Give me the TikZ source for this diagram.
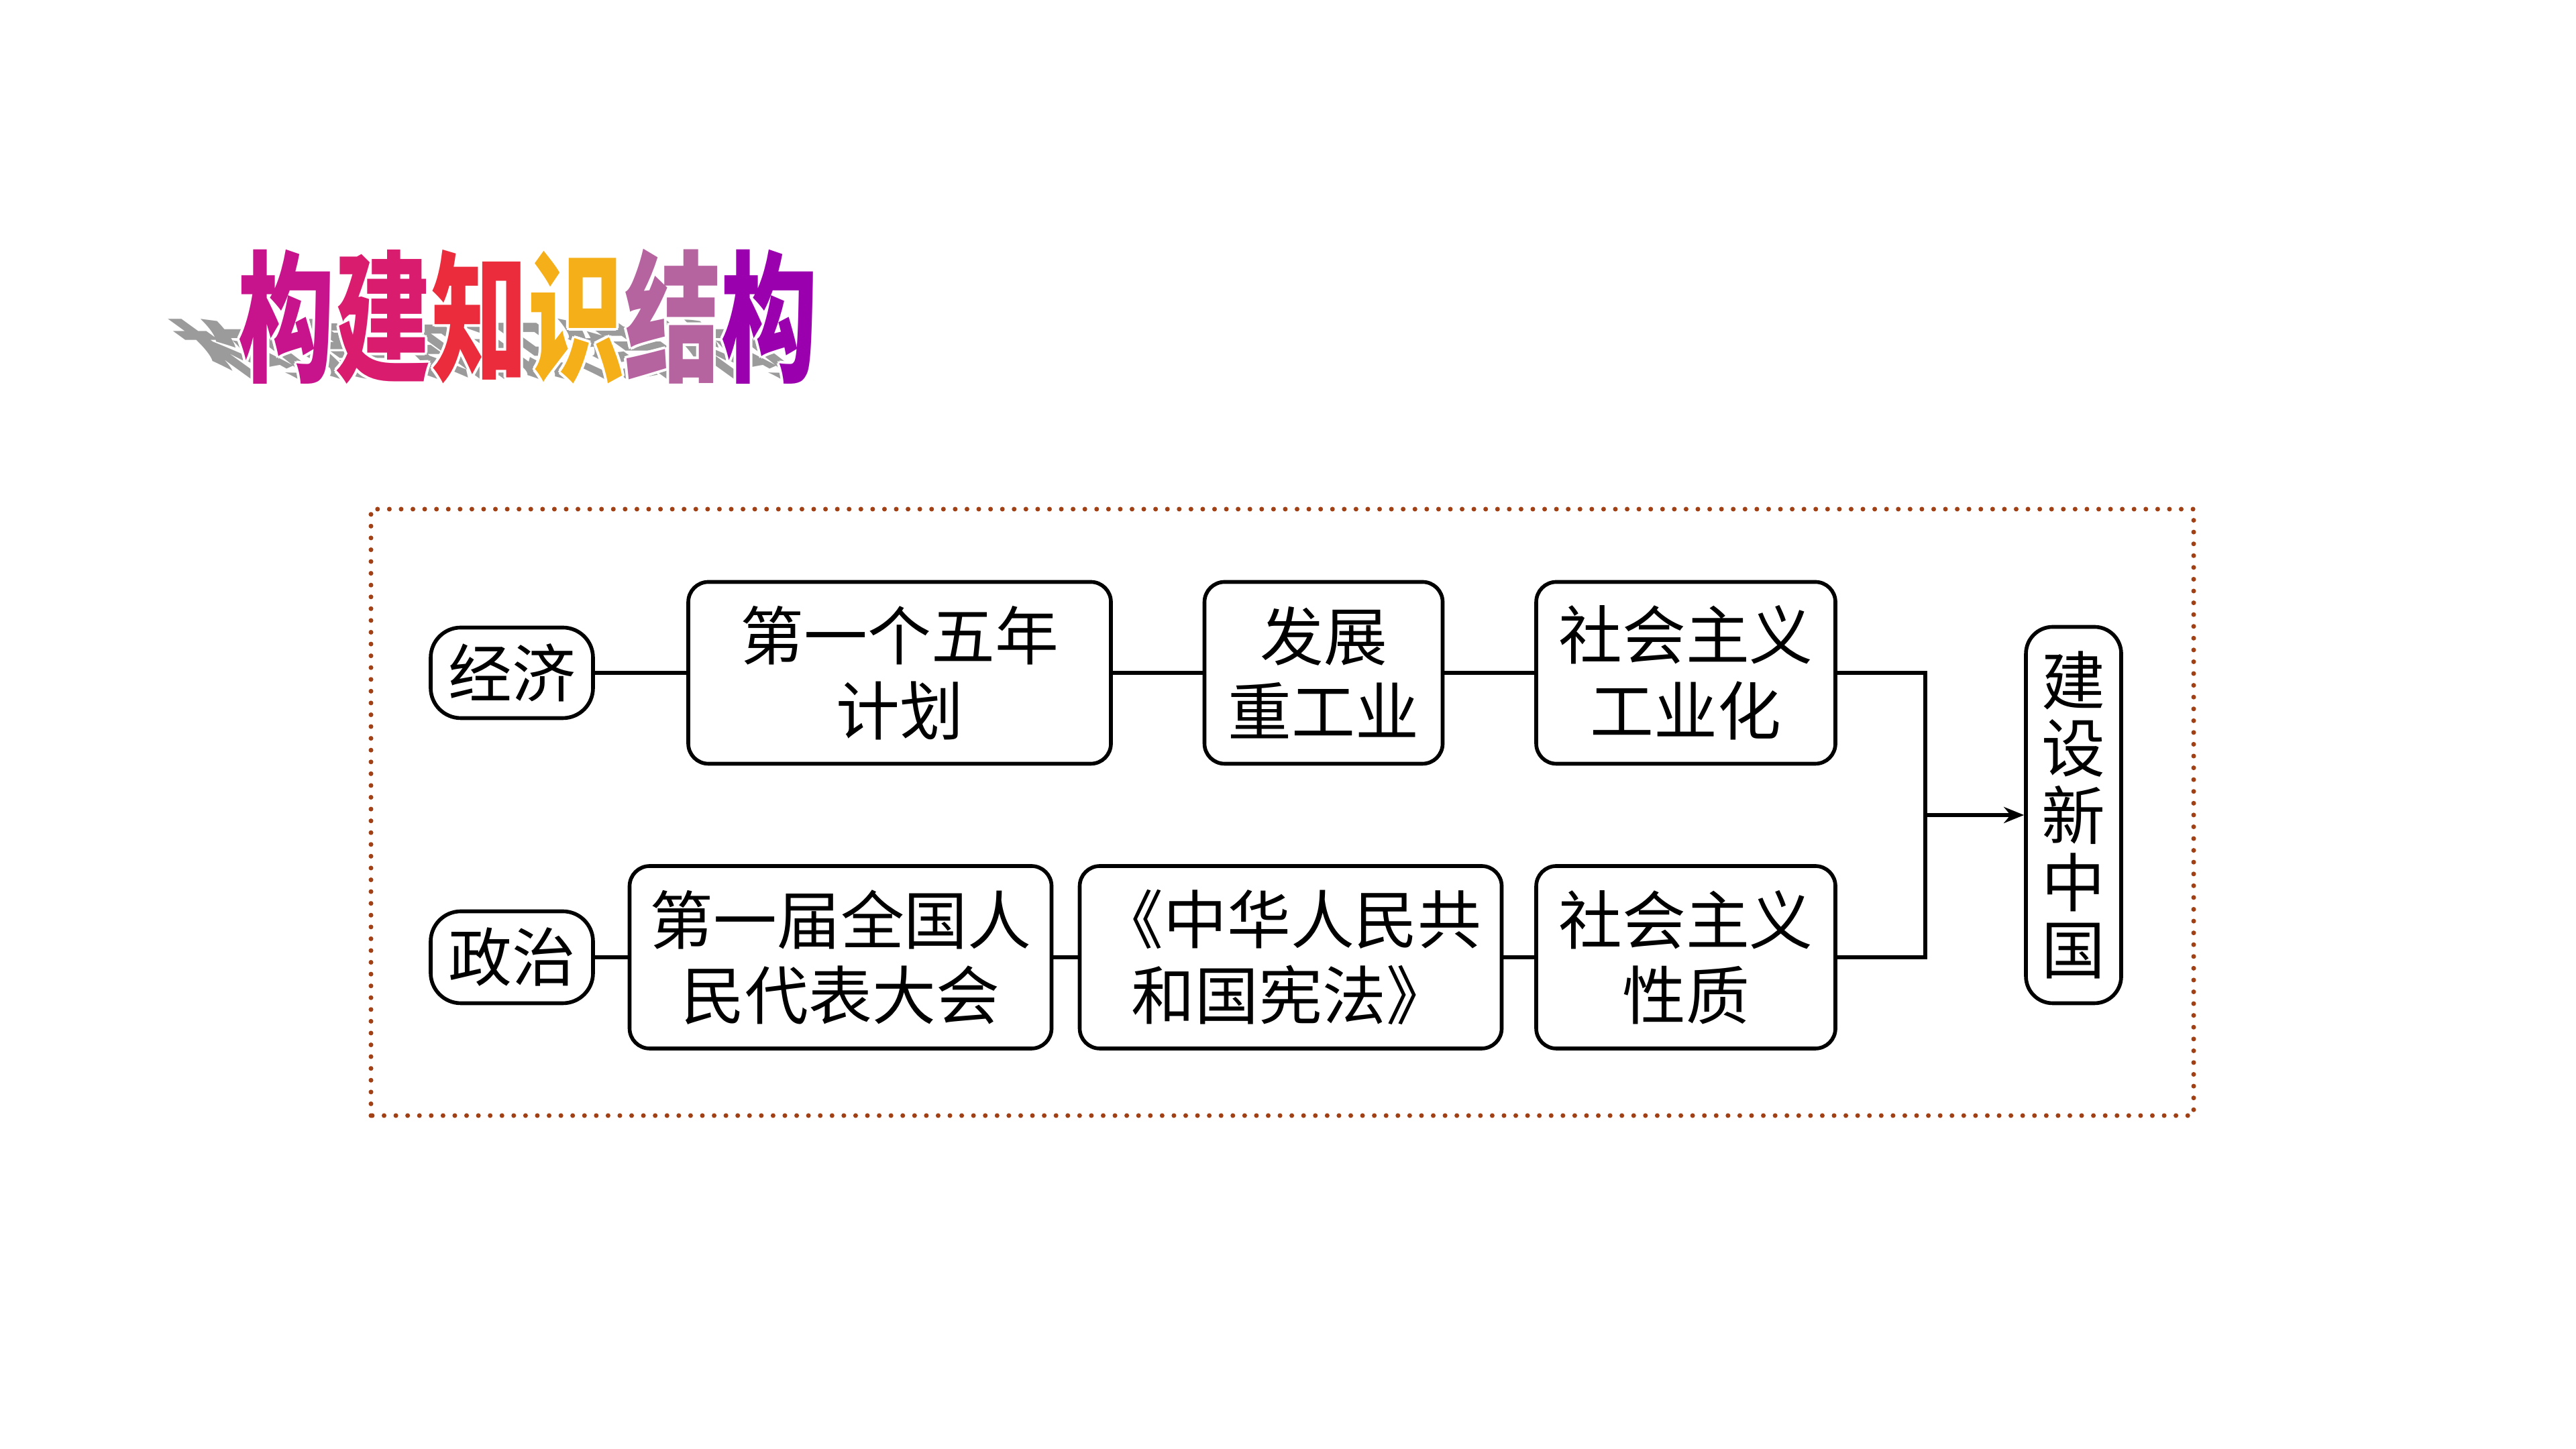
\documentclass[tikz,border=0pt]{standalone}
\usepackage{fontspec}
\newfontfamily\cjk{Noto Sans CJK SC}
\newfontfamily\titlefont[FakeStretch=0.68]{Noto Sans CJK SC}
\usetikzlibrary{arrows.meta}
\definecolor{dotred}{RGB}{160,64,20}
\definecolor{shadowgray}{RGB}{155,155,155}
\definecolor{tA}{RGB}{200,20,140}
\definecolor{tB}{RGB}{218,28,110}
\definecolor{tC}{RGB}{234,44,60}
\definecolor{tD}{RGB}{245,175,25}
\definecolor{tE}{RGB}{182,100,160}
\definecolor{tF}{RGB}{155,0,175}
\tikzset{
  box/.style={draw, line width=1.6pt, rounded corners=0.3cm, fill=white, align=center,
    inner sep=0pt, font=\cjk\fontsize{27}{32}\selectfont},
  tag/.style={box, rounded corners=0.45cm},
  link/.style={line width=1.6pt},
  ttl/.style={anchor=base, inner sep=0pt, font=\titlefont\bfseries\fontsize{60}{60}\selectfont}
}
\begin{document}
\begin{tikzpicture}
\useasboundingbox (0,0) rectangle (38.4,21.6);

\begin{scope}[shift={(0,15.92)}, cm={1,0,-0.65,0.47,(0,0)}]
\foreach \c/\x [count=\i] in {构/4.27,建/5.71,知/7.15,识/8.59,结/10.03,构/11.47}
  \node[ttl, transform shape, text=shadowgray] (s\i) at (\x,0.15) {\c};
\end{scope}
\foreach \dx/\dy [count=\j] in {0.04/0,-0.04/0,0/0.04,0/-0.04,0.03/0.03,-0.03/0.03,0.03/-0.03,-0.03/-0.03}
  \foreach \c/\x [count=\i] in {构/4.27,建/5.71,知/7.15,识/8.59,结/10.03,构/11.47}
    \node[ttl, text=white] (h\j\i) at (\x+\dx,16.07+\dy) {\c};
\foreach \c/\x/\col [count=\i] in {构/4.27/tA,建/5.71/tB,知/7.15/tC,识/8.59/tD,结/10.03/tE,构/11.47/tF}
  \node[ttl, text=\col] (t\i) at (\x,16.07) {\c};

\draw[dotred, line width=2pt, line cap=round, dash pattern=on 0pt off 5pt] (5.53,4.97) rectangle (32.70,14.01);

\node[tag, minimum width=2.42cm, minimum height=1.35cm] (jj) at (7.63,11.57) {经济};
\node[box, minimum width=6.30cm, minimum height=2.71cm] (plan) at (13.41,11.57) {第一个五年\\计划};
\node[box, minimum width=3.55cm, minimum height=2.71cm] (heavy) at (19.73,11.57) {发展\\重工业};
\node[box, minimum width=4.46cm, minimum height=2.71cm] (ind) at (25.13,11.57) {社会主义\\工业化};

\node[tag, minimum width=2.42cm, minimum height=1.37cm] (zz) at (7.63,7.33) {政治};
\node[box, minimum width=6.29cm, minimum height=2.72cm] (npc) at (12.53,7.33) {第一届全国人\\民代表大会};
\node[box, minimum width=6.29cm, minimum height=2.72cm] (law) at (19.24,7.33) {《中华人民共\\和国宪法》};
\node[box, minimum width=4.46cm, minimum height=2.72cm] (nat) at (25.13,7.33) {社会主义\\性质};

\node[box, rounded corners=0.4cm, minimum width=1.42cm, minimum height=5.61cm,
  font=\cjk\fontsize{27}{28.5}\selectfont] (xzg) at (30.91,9.45) {建\\设\\新\\中\\国};

\draw[link] (jj) -- (plan);
\draw[link] (plan) -- (heavy);
\draw[link] (heavy) -- (ind);
\draw[link] (zz) -- (npc);
\draw[link] (npc) -- (law);
\draw[link] (law) -- (nat);

\coordinate (join) at (28.70,9.45);
\draw[link] (ind.east) -| (join) |- (nat.east);
\draw[link, -{Stealth[length=0.3cm, width=0.24cm]}] (join) -- (xzg);
\end{tikzpicture}
\end{document}
